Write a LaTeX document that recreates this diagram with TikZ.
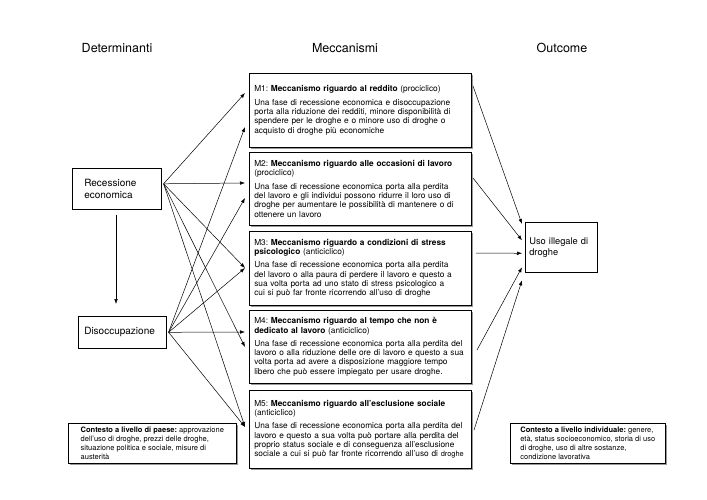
\documentclass[tikz,border=0pt]{standalone}
\usepackage{fontspec}
\setmainfont{TeX Gyre Heros}
\frenchspacing
\usetikzlibrary{shadows,arrows.meta,calc}
\begin{document}
\begin{tikzpicture}[x=1pt,y=-1pt,
  box/.style={draw=black, line width=0.6pt, fill=white},
  shbox/.style={box, drop shadow={shadow xshift=1.6pt, shadow yshift=-1.6pt, fill=black!40, opacity=1}},
  mbox/.style={shbox, anchor=north west, minimum width=222pt, text width=212pt, inner xsep=5pt, inner ysep=3pt, align=left, font=\fontsize{8.3}{9.3}\selectfont\frenchspacing},
  cbox/.style={shbox, anchor=north west, inner xsep=5pt, inner ysep=3pt, align=left, font=\fontsize{7.5}{8.8}\selectfont\frenchspacing},
  dbox/.style={box, anchor=north west, align=left, font=\fontsize{10}{11.5}\selectfont},
  arr/.style={-{Latex[length=5pt,width=3.6pt]}, line width=0.5pt},
  head/.style={font=\fontsize{12.5}{14}\selectfont}
]
\useasboundingbox (0,0) rectangle (707,500);
\fill[white] (0,0) rectangle (707,500);

\node[head] (hdet) at (117,48) {Determinanti};
\node[head] (hmec) at (345,48) {Meccanismi};
\node[head] (hout) at (562,48) {Outcome};

\node[mbox, minimum height=74pt] (m1) at (249,73) {M1: \textbf{Meccanismo riguardo al reddito} (prociclico)\\[4pt]
Una fase di recessione economica e disoccupazione\\
porta alla riduzione dei redditi, minore disponibilità di\\
spendere per le droghe e o minore uso di droghe o\\
acquisto di droghe più economiche};

\node[mbox, minimum height=73pt] (m2) at (249,152) {M2: \textbf{Meccanismo riguardo alle occasioni di lavoro}\\
(prociclico)\\[4pt]
Una fase di recessione economica porta alla perdita\\
del lavoro e gli individui possono ridurre il loro uso di\\
droghe per aumentare le possibilità di mantenere o di\\
ottenere un lavoro};

\node[mbox, minimum height=74pt] (m3) at (249,231) {M3: \textbf{Meccanismo riguardo a condizioni di stress}\\
\textbf{psicologico} (anticiclico)\\[4pt]
Una fase di recessione economica porta alla perdita\\
del lavoro o alla paura di perdere il lavoro e questo a\\
sua volta porta ad uno stato di stress psicologico a\\
cui si può far fronte ricorrendo all’uso di droghe};

\node[mbox, minimum height=73pt] (m4) at (249,310) {M4: \textbf{Meccanismo riguardo al tempo che non è}\\
\textbf{dedicato al lavoro} (anticiclico)\\[4pt]
Una fase di recessione economica porta alla perdita del\\
lavoro o alla riduzione delle ore di lavoro e questo a sua\\
volta porta ad avere a disposizione maggiore tempo\\
libero che può essere impiegato per usare droghe.};

\node[mbox, minimum height=78pt] (m5) at (249,390) {M5: \textbf{Meccanismo riguardo all’esclusione sociale}\\
(anticiclico)\\[4pt]
Una fase di recessione economica porta alla perdita del\\
lavoro e questo a sua volta può portare alla perdita del\\
proprio status sociale e di conseguenza all’esclusione\\
\mbox{sociale a cui si può far fronte ricorrendo all’uso di {\fontsize{7.4}{9}\selectfont droghe}}};

\node[dbox, minimum width=89pt, minimum height=41pt, text width=65pt, inner xsep=12pt] (rec) at (72,168) {Recessione\\economica};
\node[dbox, minimum width=88pt, minimum height=32pt, text width=76pt, inner xsep=6pt] (dis) at (78,316) {Disoccupazione};
\node[dbox, minimum width=70pt, minimum height=50pt, text width=64pt, inner xsep=4pt, font=\fontsize{9.3}{11}\selectfont] (uso) at (525,222) {Uso illegale di\\droghe};

\node[cbox, minimum width=168pt, minimum height=40pt] (pae) at (68,423) {\textbf{Contesto a livello di paese:} approvazione\\
dell’uso di droghe, prezzi delle droghe,\\
situazione politica e sociale, misure di\\
austerità};
\node[cbox, minimum width=155pt, minimum height=40pt] (ind) at (510,423) {\textbf{Contesto a livello individuale:} genere,\\
età, status socioeconomico, storia di uso\\
di droghe, uso di altre sostanze,\\
condizione lavorativa};

% sources
\coordinate (rs) at ($(rec.east)+(2,-5)$);
\coordinate (ds) at ($(dis.east)+(2,0)$);
% targets on the mechanism boxes
\coordinate (t1a) at (245,93);
\coordinate (t1b) at (245,127);
\coordinate (t2a) at (245,183);
\coordinate (t2b) at (245,198);
\coordinate (t3) at (245,268);
\coordinate (t4a) at (245,332);
\coordinate (t4b) at (245,347);
\coordinate (t5) at (245,427);

\draw[arr] (rec.south -| 116,0) ++(0,5) coordinate (vs) -- ($(dis.north -| 116,0)+(0,-12)$) coordinate (vt);

\draw[arr] (rs) -- (t1a);
\draw[arr] (rs) -- (t2a);
\draw[arr] (rs) -- (t3);
\draw[arr] (rs) -- (t4b);
\draw[arr] (rs) -- (t5);
\draw[arr] (ds) -- (t1b);
\draw[arr] (ds) -- (t2b);
\draw[arr] (ds) -- (t3);
\draw[arr] (ds) -- (t4a);
\draw[arr] (ds) -- (t5);

% to outcome
\coordinate (o1) at (473,86);
\coordinate (o2) at (473,178);
\coordinate (o3) at (476,253);
\coordinate (o4) at (477,350);
\coordinate (o5) at (474,430);
\draw[arr] (o1) -- ($(uso.north west)+(-3,2)$);
\draw[arr] (o2) -- ($(uso.west)+(-3,-7)$);
\draw[arr] (o3) -- ($(uso.west)+(-3,6)$);
\draw[arr] (o4) -- ($(uso.west)+(-3,20)$);
\draw[arr] (o5) -- ($(uso.west)+(-3,33)$);
\end{tikzpicture}
\end{document}
